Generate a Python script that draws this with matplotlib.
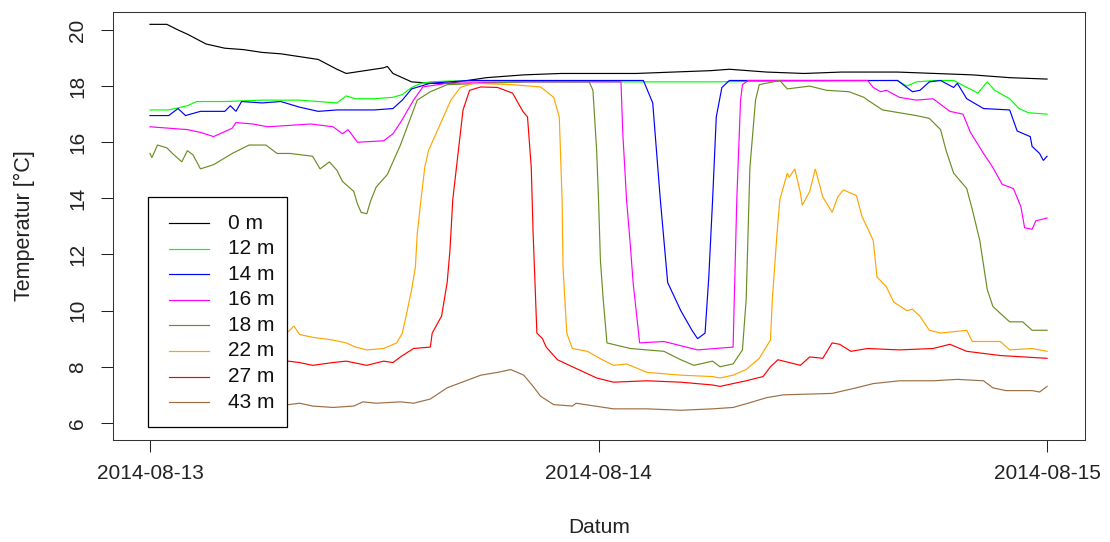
import numpy as np
import pandas as pd
import matplotlib
matplotlib.use("Agg")
import matplotlib.pyplot as plt
from matplotlib.patches import Rectangle

plt.rcParams["font.family"] = ["Liberation Sans", "DejaVu Sans"]

START = pd.Timestamp("2014-08-13 00:00")

# Hours after 2014-08-13 00:00 and temperatures (degC) for each logger depth
h_0m = [0, 0.5, 0.9, 1.5, 2, 3, 4, 5, 6, 7, 8, 9, 10, 10.5, 11, 12, 12.5, 12.7, 13,
        13.5, 14, 15, 16, 17, 18, 20, 22, 24, 26, 28, 30, 31, 32, 33, 35, 37, 38,
        40, 42, 44, 46, 48]
t_0m = [20.2, 20.2, 20.2, 20.0, 19.85, 19.5, 19.35, 19.3, 19.2, 19.15, 19.05, 18.95,
        18.6, 18.45, 18.5, 18.6, 18.65, 18.7, 18.45, 18.3, 18.15, 18.1, 18.1, 18.2,
        18.3, 18.4, 18.45, 18.45, 18.45, 18.5, 18.55, 18.6, 18.55, 18.5, 18.45, 18.5,
        18.5, 18.5, 18.45, 18.4, 18.3, 18.25]

h_12m = [0, 1, 2, 2.5, 4, 6, 8, 9, 10, 10.5, 11, 12, 13, 13.5, 14, 14.5, 15, 16,
         20, 25, 30, 35, 40, 40.5, 41, 42, 43, 44.3, 44.8, 45.2, 46, 46.5, 47, 48]
t_12m = [17.15, 17.15, 17.3, 17.45, 17.45, 17.5, 17.5, 17.45, 17.4, 17.65, 17.55,
         17.55, 17.6, 17.7, 17.95, 18.1, 18.15, 18.18, 18.18, 18.15, 18.15, 18.18,
         18.2, 18.0, 18.15, 18.2, 18.2, 17.75, 18.15, 17.85, 17.55, 17.2, 17.05, 17.0]

h_14m = [0, 1, 1.5, 1.9, 2.7, 4, 4.3, 4.6, 4.9, 6, 7, 8, 9, 10, 11, 12, 13, 13.5,
         14, 15, 16, 17, 20, 24, 26.4, 26.9, 27.3, 27.5, 27.7, 28.4, 29, 29.3, 29.7,
         29.9, 30.1, 30.3, 30.6, 31, 35, 40, 40.8, 41.2, 41.7, 42.3, 43, 43.2, 43.7,
         44.6, 46, 46.4, 47.1, 47.2, 47.6, 47.8, 48]
t_14m = [16.95, 16.95, 17.2, 16.95, 17.1, 17.1, 17.3, 17.1, 17.45, 17.4, 17.45, 17.25,
         17.1, 17.15, 17.15, 17.15, 17.2, 17.5, 17.9, 18.1, 18.15, 18.2, 18.2, 18.2,
         18.2, 17.4, 14.0, 12.5, 11.0, 10.0, 9.3, 9.0, 9.2, 11.2, 13.9, 16.9, 17.95,
         18.2, 18.2, 18.2, 17.8, 17.85, 18.15, 18.2, 17.95, 18.1, 17.55, 17.2, 17.15,
         16.4, 16.2, 15.85, 15.6, 15.35, 15.5]

h_16m = [0, 1, 2, 2.7, 3.4, 4.4, 4.6, 5.5, 6.3, 8.6, 9.8, 10.3, 10.6, 11.1, 12.5, 13,
         13.4, 14.1, 14.6, 15.9, 20, 25.2, 25.3, 25.5, 25.7, 25.85, 26.2, 27.5, 29.3,
         31.2, 31.4, 31.6, 31.7, 32, 38.4, 38.7, 39.1, 39.4, 40.1, 41, 41.9, 42.8,
         43.5, 43.9, 44.6, 45.1, 45.6, 46.2, 46.6, 46.8, 47.2, 47.4, 48]
t_16m = [16.55, 16.5, 16.45, 16.35, 16.2, 16.5, 16.7, 16.65, 16.55, 16.65, 16.55,
         16.3, 16.45, 16.0, 16.05, 16.3, 16.7, 17.5, 17.97, 18.1, 18.15, 18.15, 16.3,
         13.95, 12.35, 11.0, 8.85, 8.9, 8.6, 8.7, 14.0, 17.5, 18.05, 18.2, 18.2,
         17.95, 17.8, 17.85, 17.6, 17.5, 17.55, 17.1, 17.0, 16.35, 15.6, 15.1, 14.5,
         14.35, 13.7, 12.95, 12.9, 13.2, 13.3]

h_18m = [0, 0.1, 0.4, 0.9, 1.2, 1.7, 2, 2.3, 2.7, 3.4, 4.4, 5.3, 6.2, 6.8, 7.5, 8.7,
         9.1, 9.6, 10, 10.3, 10.9, 11.1, 11.3, 11.6, 11.8, 12.1, 12.7, 13.4, 14.1,
         14.3, 15, 15.9, 20, 23.5, 23.7, 23.9, 24, 24.1, 24.25, 24.45, 25.7, 26.6,
         27.5, 28.4, 29.1, 30.1, 30.5, 31.2, 31.7, 31.9, 32.1, 32.4, 32.6, 33.7,
         34.1, 35.3, 36.2, 37.4, 38.2, 38.4, 39.2, 41, 41.7, 42.3, 42.6, 43, 43.7,
         44, 44.4, 44.8, 45.1, 45.5, 46, 46.7, 47.2, 48]
t_18m = [15.6, 15.45, 15.9, 15.8, 15.6, 15.3, 15.7, 15.55, 15.05, 15.2, 15.6, 15.9,
         15.9, 15.6, 15.6, 15.5, 15.05, 15.3, 15.0, 14.6, 14.25, 13.8, 13.5, 13.45,
         13.9, 14.4, 14.85, 15.9, 17.15, 17.5, 17.8, 18.05, 18.15, 18.15, 17.85, 15.7,
         13.95, 11.8, 10.4, 8.85, 8.65, 8.6, 8.55, 8.25, 8.05, 8.2, 8.0, 8.1, 8.6,
         10.4, 15.1, 17.5, 18.05, 18.2, 17.9, 18.0, 17.85, 17.8, 17.6, 17.5, 17.15,
         16.95, 16.85, 16.45, 15.7, 14.9, 14.35, 13.6, 12.5, 10.75, 10.15, 9.9, 9.6,
         9.6, 9.3, 9.3]

h_22m = [0, 3, 6, 7.4, 7.7, 8, 8.7, 9.8, 10.5, 11, 11.6, 12.5, 13.2, 13.5, 13.7, 14,
         14.2, 14.3, 14.5, 14.7, 14.9, 15.3, 15.7, 16.1, 16.6, 17.3, 19.4, 20.9, 21.6,
         21.9, 22.05, 22.1, 22.3, 22.6, 23.4, 24.2, 24.8, 25.5, 26.6, 28.4, 30.1,
         30.5, 31.2, 31.9, 32.6, 33.2, 33.3, 33.55, 33.7, 34.1, 34.2, 34.5, 34.8,
         34.9, 35.3, 35.6, 36, 36.5, 36.8, 37.1, 37.8, 38.1, 38.7, 38.9, 39.4, 39.8,
         40.5, 40.8, 41.2, 41.7, 42.3, 43.7, 44, 45.5, 46, 47.2, 48]
t_22m = [9.2, 9.3, 9.4, 9.25, 9.45, 9.15, 9.05, 8.95, 8.85, 8.7, 8.6, 8.65, 8.85, 9.2,
         9.8, 10.75, 11.55, 12.75, 13.95, 15.1, 15.7, 16.3, 16.9, 17.5, 17.95, 18.1,
         18.05, 17.97, 17.6, 16.9, 13.95, 11.55, 9.2, 8.65, 8.55, 8.25, 8.05, 8.1, 7.8,
         7.7, 7.65, 7.6, 7.7, 7.9, 8.3, 8.95, 10.4, 12.75, 13.95, 14.9, 14.75, 15.05,
         14.2, 13.75, 14.25, 15.05, 14.05, 13.5, 14.05, 14.3, 14.1, 13.35, 12.5, 11.2,
         10.85, 10.3, 10.0, 10.05, 9.8, 9.3, 9.2, 9.3, 8.9, 8.9, 8.6, 8.65, 8.55]

h_27m = [0, 3, 6, 7.4, 8, 8.7, 9.8, 10.5, 11.6, 12.5, 13, 13.4, 14.1, 15, 15.1, 15.6,
         15.9, 16.05, 16.2, 16.5, 16.75, 17.1, 17.7, 18.6, 19.4, 19.95, 20.2, 20.4,
         20.5, 20.6, 20.7, 21.0, 21.2, 21.8, 22.6, 23.9, 24.8, 26.6, 28.4, 30.1, 30.5,
         31.9, 32.8, 33.2, 33.6, 34.8, 35.3, 36, 36.5, 36.9, 37.5, 38.4, 40.1, 41.9,
         42.8, 43.7, 45.5, 48]
t_27m = [8.2, 8.1, 8.1, 8.2, 8.15, 8.05, 8.15, 8.2, 8.05, 8.2, 8.15, 8.35, 8.65, 8.7,
         9.2, 9.8, 11.0, 12.15, 13.95, 15.7, 17.15, 17.85, 17.97, 17.95, 17.75, 17.1,
         16.9, 15.1, 12.75, 11.0, 9.2, 9.0, 8.7, 8.25, 8.0, 7.6, 7.45, 7.5, 7.45, 7.35,
         7.3, 7.5, 7.65, 8.0, 8.25, 8.05, 8.35, 8.3, 8.85, 8.8, 8.55, 8.65, 8.6, 8.65,
         8.8, 8.55, 8.4, 8.3]

h_43m = [0, 3, 6, 7.4, 8, 8.7, 9.8, 10.9, 11.4, 12.1, 13.4, 14.1, 15, 15.9, 17.1,
         17.7, 18.6, 19.3, 20, 20.5, 20.9, 21.6, 22.6, 22.8, 24.8, 26.6, 28.4, 30.1,
         31.2, 32, 33, 33.9, 36.5, 37.8, 38.7, 40.1, 41.9, 43.2, 44.6, 45.1, 45.8,
         47.2, 47.6, 48]
t_43m = [6.6, 6.55, 6.6, 6.65, 6.7, 6.6, 6.55, 6.6, 6.75, 6.7, 6.75, 6.7, 6.85, 7.25,
         7.55, 7.7, 7.8, 7.9, 7.7, 7.3, 6.95, 6.65, 6.6, 6.7, 6.5, 6.5, 6.45, 6.5,
         6.55, 6.7, 6.9, 7.0, 7.05, 7.25, 7.4, 7.5, 7.5, 7.55, 7.5, 7.25, 7.15, 7.15,
         7.1, 7.3]

labels = ["0 m", "12 m", "14 m", "16 m", "18 m", "22 m", "27 m", "43 m"]
colors = ["black", "#00FF00", "#0000FF", "#FF00FF", "#6B8E23", "#FFA500", "#FF0000",
          "#9C6E45"]
hours = [h_0m, h_12m, h_14m, h_16m, h_18m, h_22m, h_27m, h_43m]
temps = [t_0m, t_12m, t_14m, t_16m, t_18m, t_22m, t_27m, t_43m]

y_ticks = [6, 8, 10, 12, 14, 16, 18, 20]
x_tick_labels = ["2014-08-13", "2014-08-14", "2014-08-15"]


def to_time(h):
    return START + pd.to_timedelta(np.asarray(h, dtype=float), unit="h")


fig = plt.figure(figsize=(11.10, 5.42), dpi=100)
ax = fig.add_axes([113 / 1110, 1 - 440 / 542, 972 / 1110, 428 / 542])

for h, t, c in zip(hours, temps, colors):
    ax.plot(to_time(h), t, color=c, lw=0.85, solid_joinstyle="miter")

ax.set_xlim(to_time([-1.98])[0], to_time([50.03])[0])
ax.set_ylim(5.39, 20.64)

ax.set_xticks([pd.Timestamp(s) for s in x_tick_labels])
ax.set_xticklabels(x_tick_labels)
ax.set_yticks(y_ticks)
ax.set_yticklabels([str(v) for v in y_ticks], rotation=90, va="center")

ax.tick_params(axis="both", direction="out", length=8.6, width=0.75,
               colors="#222222", labelsize=15, labelcolor="#222222")
ax.tick_params(axis="x", pad=9)
ax.tick_params(axis="y", pad=10)
for sp in ax.spines.values():
    sp.set_linewidth(0.75)
    sp.set_color("#333333")

ax.set_xlabel("Datum", fontsize=15, color="#222222", labelpad=25)
ax.set_ylabel("Temperatur [°C]", fontsize=15.5, color="#222222", labelpad=24)

# Legend box drawn in axes coordinates, opaque over the data
lx0, lx1 = 0.0360, 0.1790
ly0, ly1 = 0.0304, 0.5678
ax.add_patch(Rectangle((lx0, ly0), lx1 - lx0, ly1 - ly0, transform=ax.transAxes,
                       facecolor="white", edgecolor="black", lw=0.9, zorder=5))
row0, step = 0.507, 0.0598
for i, (lab, c) in enumerate(zip(labels, colors)):
    yy = row0 - i * step
    ax.plot([0.0576, 0.0988], [yy, yy], transform=ax.transAxes, color=c, lw=0.85,
            zorder=6)
    ax.text(0.1183, yy, lab, transform=ax.transAxes, fontsize=15, va="center",
            ha="left", color="#111111", zorder=6)

fig.savefig("out.png", dpi=100)
